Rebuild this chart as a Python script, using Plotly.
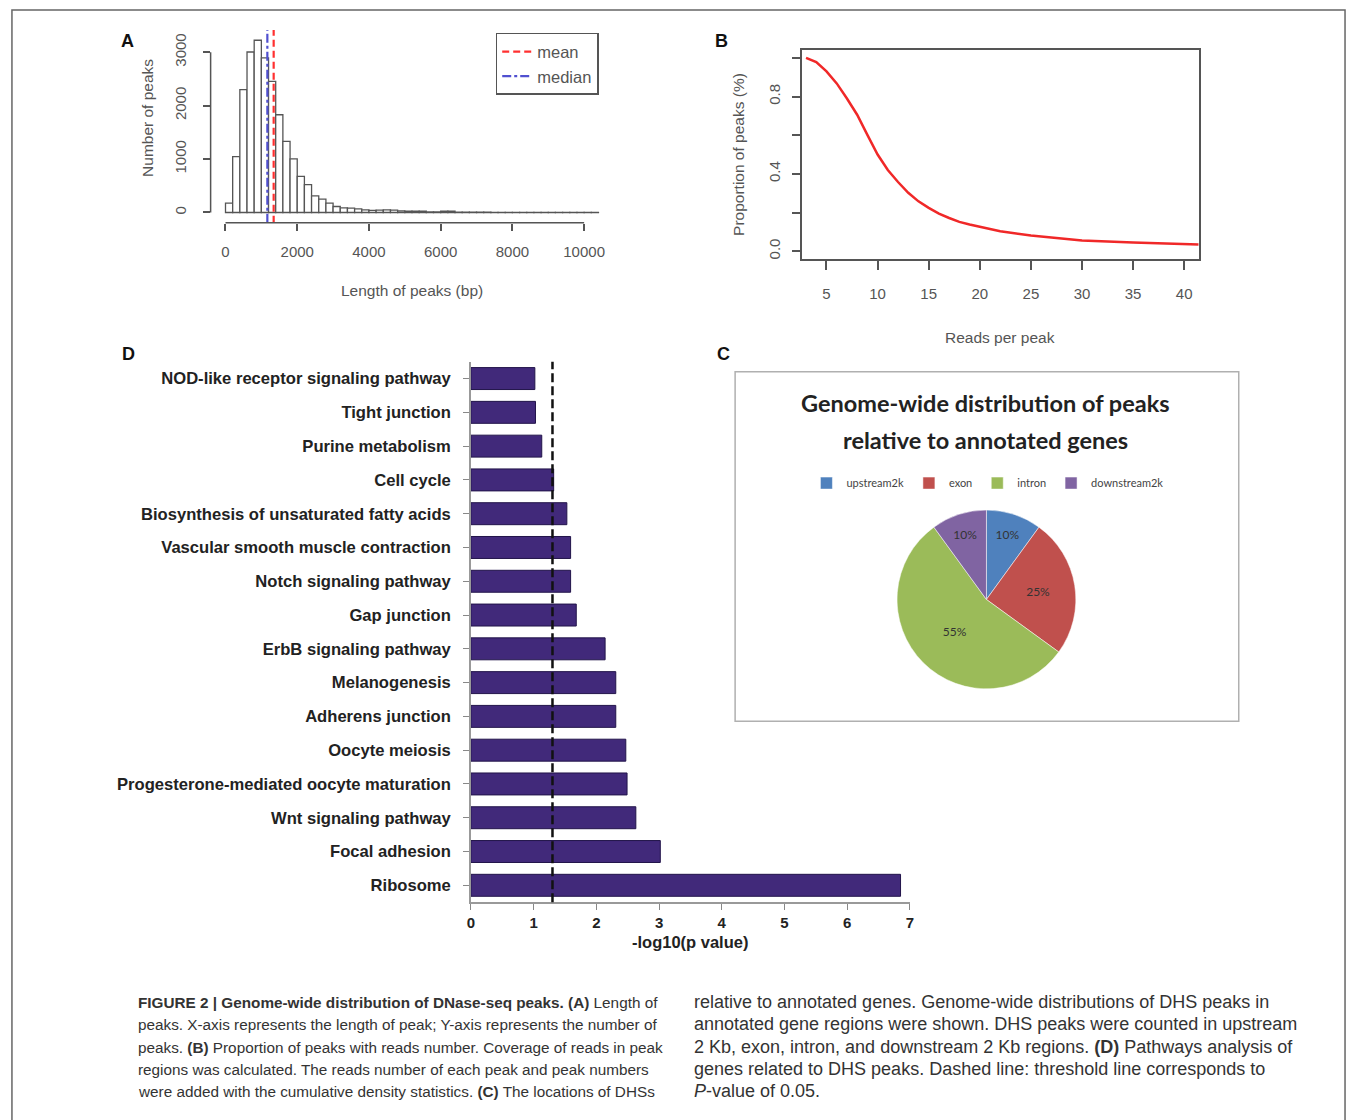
import plotly.graph_objects as go

W, H = 1355, 1120


def px(x):
    return x / W


def py(y):
    return 1 - y / H


# ---------------- Panel A: histogram of peak lengths ----------------
hist_bin_width = 200
hist_bin_starts = [0, 200, 400, 600, 800, 1000, 1200, 1400, 1600, 1800,
                   2000, 2200, 2400, 2600, 2800, 3000, 3200, 3400, 3600, 3800,
                   4000, 4200, 4400, 4600, 4800, 5000, 5200, 5400, 5600, 5800,
                   6000, 6200, 6400, 6600, 6800, 7000, 7200, 7400, 7600, 7800,
                   8000, 8200, 8400, 8600, 8800, 9000, 9200, 9400, 9600, 9800,
                   10000, 10200]
hist_counts = [175, 1045, 2300, 3005, 3225, 2895, 2455, 1830, 1330, 1005,
               675, 520, 312, 250, 175, 112, 88, 80, 69, 50,
               38, 44, 50, 44, 31, 25, 25, 25, 12, 12,
               25, 25, 6, 5, 5, 4, 4, 3, 3, 3,
               3, 2, 2, 2, 2, 2, 2, 1, 1, 1,
               1, 1]
mean_length = 1343
median_length = 1167
a_xticks = [0, 2000, 4000, 6000, 8000, 10000]
a_xticktext = ["0", "2000", "4000", "6000", "8000", "10000"]
a_yticks = [0, 1000, 2000, 3000]
a_yticktext = ["0", "1000", "2000", "3000"]

# ---------------- Panel B: proportion of peaks vs reads ----------------
reads_per_peak = [3, 4, 5, 6, 7, 8, 9, 10, 11, 12, 13, 14, 15, 16, 17, 18, 19, 20,
                  22, 25, 28, 30, 35, 40, 41.4]
proportion = [1.000, 0.978, 0.930, 0.868, 0.790, 0.706, 0.602, 0.500, 0.420, 0.358,
              0.302, 0.258, 0.224, 0.195, 0.172, 0.152, 0.138, 0.126,
              0.103, 0.081, 0.064, 0.055, 0.045, 0.040, 0.035]
b_xticks = [5, 10, 15, 20, 25, 30, 35, 40]
b_yticks = [0.0, 0.2, 0.4, 0.6, 0.8, 1.0]
b_yticktext = ["0.0", "", "0.4", "", "0.8", ""]

# ---------------- Panel C: genomic distribution pie ----------------
regions = ["upstream2k", "exon", "intron", "downstream2k"]
region_share = [10, 25, 55, 10]
region_colors = ["#4f81bd", "#c0504d", "#9bbb59", "#8064a2"]

# ---------------- Panel D: pathway enrichment ----------------
pathways = ["NOD-like receptor signaling pathway", "Tight junction", "Purine metabolism",
            "Cell cycle", "Biosynthesis of unsaturated fatty acids",
            "Vascular smooth muscle contraction", "Notch signaling pathway", "Gap junction",
            "ErbB signaling pathway", "Melanogenesis", "Adherens junction", "Oocyte meiosis",
            "Progesterone-mediated oocyte maturation", "Wnt signaling pathway",
            "Focal adhesion", "Ribosome"]
neg_log10_p = [1.02, 1.03, 1.13, 1.32, 1.53, 1.59, 1.59, 1.68, 2.14, 2.31, 2.31, 2.47,
               2.49, 2.63, 3.02, 6.85]
threshold = 1.301
d_xticks = [0, 1, 2, 3, 4, 5, 6, 7]

R_FONT = "Liberation Sans, Arial, sans-serif"
R_COL = "#555555"
CAP_FONT = "Liberation Sans, Arial, sans-serif"

fig = go.Figure()

# Panel A traces
fig.add_trace(go.Bar(
    x=[s + hist_bin_width / 2 for s in hist_bin_starts], y=hist_counts, width=hist_bin_width,
    marker=dict(color="white", line=dict(color=R_COL, width=1.3)),
    xaxis="x", yaxis="y", showlegend=False, hoverinfo="skip"))
fig.add_trace(go.Scatter(
    x=[mean_length, mean_length], y=[0, 1], mode="lines", name="mean",
    line=dict(color="#ff3030", width=2.2, dash="7px,4px"),
    xaxis="x", yaxis="y4", legend="legend"))
fig.add_trace(go.Scatter(
    x=[median_length, median_length], y=[0, 1], mode="lines", name="median",
    line=dict(color="#5050d0", width=2.2, dash="dashdot"),
    xaxis="x", yaxis="y4", legend="legend"))

# Panel B trace
fig.add_trace(go.Scatter(
    x=reads_per_peak, y=proportion, mode="lines", line=dict(color="#f02828", width=2.5),
    xaxis="x2", yaxis="y2", showlegend=False))

# Panel D trace
fig.add_trace(go.Bar(
    x=neg_log10_p, y=pathways, orientation="h",
    marker=dict(color="#41297a", line=dict(color="#22144a", width=1)),
    xaxis="x3", yaxis="y3", showlegend=False))

# Panel C pie
fig.add_trace(go.Pie(
    labels=regions, values=region_share, sort=False, direction="clockwise", rotation=0,
    marker=dict(colors=region_colors, line=dict(color="#ffffff", width=0.5)),
    texttemplate="%{value}%", textposition="inside", insidetextorientation="horizontal",
    textfont=dict(size=12, color="#333333", family="Lato, sans-serif"),
    domain=dict(x=[px(899), px(1079)], y=[py(690), py(510)]),
    legend="legend2", hoverinfo="label+percent"))

axis_common = dict(showgrid=False, zeroline=False, ticks="outside")

fig.update_layout(
    width=W, height=H, margin=dict(l=0, r=0, t=0, b=0),
    paper_bgcolor="white", plot_bgcolor="rgba(0,0,0,0)",
    bargap=0.35,
    # Panel A
    xaxis=dict(domain=[px(208), px(600)], range=[-415, 10443], anchor="y",
               tickvals=a_xticks, ticktext=a_xticktext, ticklen=7, tickwidth=1.5,
               tickcolor=R_COL, showline=False,
               tickfont=dict(family=R_FONT, size=15, color=R_COL),
               ticklabelstandoff=8, **axis_common),
    yaxis=dict(domain=[py(223), py(30)], range=[-193, 3417], anchor="x",
               tickvals=a_yticks, ticktext=a_yticktext, tickangle=-90, ticklen=7,
               tickwidth=1.5, tickcolor=R_COL,
               showline=False, tickfont=dict(family=R_FONT, size=15, color=R_COL),
               ticklabelstandoff=11, **axis_common),
    yaxis4=dict(overlaying="y", range=[0, 1], visible=False, anchor="x"),
    # Panel B
    xaxis2=dict(domain=[px(803), px(1203)], range=[2.57, 41.45], anchor="y2",
                tickvals=b_xticks, ticklen=9, tickwidth=1.5, tickcolor=R_COL,
                showline=True, mirror=True, linecolor=R_COL, linewidth=1.5,
                tickfont=dict(family=R_FONT, size=15, color=R_COL),
                ticklabelstandoff=11, **axis_common),
    yaxis2=dict(domain=[py(259), py(50)], range=[-0.039, 1.041], anchor="x2",
                tickvals=b_yticks, ticktext=b_yticktext, tickangle=-90, ticklen=8,
                tickwidth=1.5, tickcolor=R_COL,
                showline=True, mirror=True, linecolor=R_COL, linewidth=1.5,
                tickfont=dict(family=R_FONT, size=15, color=R_COL),
                ticklabelstandoff=6, **axis_common),
    # Panel D
    xaxis3=dict(domain=[px(470), px(912)], range=[0, 7], anchor="y3",
                tickvals=d_xticks, ticklen=6, tickwidth=1.2, tickcolor="#888888",
                showline=True, linecolor="#999999", linewidth=1.5,
                tickfont=dict(family=R_FONT, size=15, color="#222222", weight="bold"),
                ticklabelstandoff=0, **axis_common),
    yaxis3=dict(domain=[py(903), py(362)], anchor="x3", type="category",
                categoryorder="array", categoryarray=pathways, autorange="reversed",
                ticklen=6, tickwidth=1.2, tickcolor="#888888",
                showline=True, linecolor="#999999", linewidth=1.5,
                tickfont=dict(family=R_FONT, size=16.6, color="#222222", weight="bold"),
                ticklabelstandoff=9, **axis_common),
    legend=dict(x=px(495), y=py(33), xanchor="left", yanchor="top",
                bordercolor=R_COL, borderwidth=1.5, bgcolor="white",
                font=dict(family=R_FONT, size=16.5, color=R_COL),
                itemwidth=30, tracegroupgap=0),
    legend2=dict(orientation="h", x=px(990), y=py(469), xanchor="center", yanchor="top",
                 font=dict(family="Lato, sans-serif", size=11, color="#444444"),
                 itemwidth=30, bgcolor="rgba(0,0,0,0)"),
)

shapes = [
    # outer frame
    dict(type="rect", xref="paper", yref="paper", x0=px(8), x1=px(1350), y0=-0.02, y1=py(10),
         line=dict(color="#666666", width=1.5)),
    # Panel A axis lines (R style, spanning tick range)
    dict(type="line", xref="x", yref="y domain", x0=a_xticks[0], x1=a_xticks[-1], y0=0, y1=0,
         line=dict(color=R_COL, width=1.5)),
    dict(type="line", xref="x domain", yref="y", x0=0, x1=0, y0=a_yticks[0], y1=a_yticks[-1],
         line=dict(color=R_COL, width=1.5)),
    # Panel C frame
    dict(type="rect", xref="paper", yref="paper", x0=px(736), x1=px(1243), y0=py(722), y1=py(372),
         line=dict(color="#b0b0b0", width=1.5)),
    # Panel D threshold
    dict(type="line", xref="x3", yref="y3 domain", x0=threshold, x1=threshold, y0=0, y1=1,
         line=dict(color="#111111", width=2.5, dash="9px,4px")),
]
fig.update_layout(shapes=shapes)


def ann(text, x, y, size=15, color=R_COL, family=R_FONT, angle=0, xanchor="center",
        weight="normal"):
    fig.add_annotation(text=text, x=px(x), y=py(y), xref="paper", yref="paper",
                       showarrow=False, xanchor=xanchor, yanchor="middle", textangle=angle,
                       font=dict(size=size, color=color, family=family, weight=weight))


# panel letters
ann("A", 124, 41, size=18, color="#111111", weight="bold")
ann("B", 722, 41, size=18, color="#111111", weight="bold")
ann("D", 125, 354, size=18, color="#111111", weight="bold")
ann("C", 724, 354, size=18, color="#111111", weight="bold")

# axis titles
ann("Number of peaks", 145, 118, size=15.5, angle=-90)
ann("Length of peaks (bp)", 411, 291, size=15.5)
ann("Proportion of peaks (%)", 740, 155, size=15.5, angle=-90)
ann("Reads per peak", 1003, 338, size=15.5)
ann("-log10(p value)", 691, 943, size=16.5, color="#222222", weight="bold")

# Panel C title
ann("Genome-wide distribution of peaks", 988, 403, size=23.5, color="#222222",
    family="Lato, sans-serif", weight="bold")
ann("relative to annotated genes", 988, 440, size=23.5, color="#222222",
    family="Lato, sans-serif", weight="bold")

# caption
caption_left = [
    "<b>FIGURE 2 | Genome-wide distribution of DNase-seq peaks. (A)</b> Length of",
    "peaks. X-axis represents the length of peak; Y-axis represents the number of",
    "peaks. <b>(B)</b> Proportion of peaks with reads number. Coverage of reads in peak",
    "regions was calculated. The reads number of each peak and peak numbers",
    "were added with the cumulative density statistics. <b>(C)</b> The locations of DHSs",
]
caption_right = [
    "relative to annotated genes. Genome-wide distributions of DHS peaks in",
    "annotated gene regions were shown. DHS peaks were counted in upstream",
    "2 Kb, exon, intron, and downstream 2 Kb regions. <b>(D)</b> Pathways analysis of",
    "genes related to DHS peaks. Dashed line: threshold line corresponds to",
    "<i>P</i>-value of 0.05.",
]
caption_rows = [1003, 1025, 1048, 1070, 1092]
for txt, yy in zip(caption_left, caption_rows):
    ann(txt, 133, yy, size=15.3, color="#333333", family=CAP_FONT, xanchor="left")
for txt, yy in zip(caption_right, caption_rows):
    ann(txt, 693, yy, size=18, color="#333333", family=CAP_FONT, xanchor="left")

fig.write_html("out.html", config={"displayModeBar": False},
               post_script="document.body.style.margin='0';")
